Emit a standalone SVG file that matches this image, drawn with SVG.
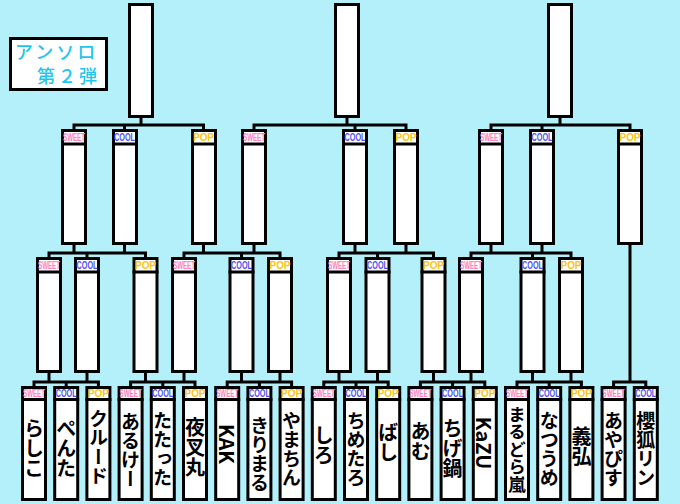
<svg xmlns="http://www.w3.org/2000/svg" width="680" height="504" viewBox="0 0 680 504">
<style>
.bg{fill:#b4f0fa}
.box{fill:#fff;stroke:#000;stroke-width:3}
.sep{stroke:#000;stroke-width:3}
.con{fill:none;stroke:#000;stroke-width:3}
.tag{font-family:"Liberation Sans","Noto Sans",sans-serif;font-size:11px;font-weight:700;text-anchor:middle}
.sw{fill:#ff80bb}
.co{fill:#5050f0}
.po{fill:#f7c514}
.title{font-family:"Noto Sans CJK JP","Noto Sans",sans-serif;font-size:18px;font-weight:500;fill:#1fc6ee;letter-spacing:3px}
.nm{font-family:"Noto Sans CJK JP","Noto Sans",sans-serif;font-size:20px;font-weight:700;fill:#000;writing-mode:vertical-rl;text-anchor:middle}
.n4{font-size:19px}
</style>
<rect class="bg" x="0" y="0" width="680" height="504"/>
<g id="title">
<rect class="box" x="10.5" y="38.5" width="96" height="51"/>
<text class="title" x="15" y="59">アンソロ</text>
<text class="title" x="37" y="83">第２弾</text>
</g>
<g id="connectors">
<path class="con" d="M141 117V125M74 125V130M124.5 125V130M203.5 125V130M72.5 125H205M347 117V125M254 125V130M355 125V130M406 125V130M252.5 125H407.5M560 117V125M491 125V130M542 125V130M630 125V130M489.5 125H631.5"/>
<path class="con" d="M74 244V253M124.5 244V253M49 253V258M87 253V258M145.5 253V258M47.5 253H147M203.5 244V253M254 244V253M184 253V258M241.5 253V258M280 253V258M182.5 253H281.5M355 244V253M406 244V253M339 253V258M377.5 253V258M433.5 253V258M337.5 253H435M491 244V253M542 244V253M471 253V258M532.5 253V258M571 253V258M469.5 253H572.5M630 244V382"/>
<path class="con" d="M49 372V382M87 372V382M32.5 382H99.9M34 382V387M66.2 382V387M98.4 382V387M145.5 372V382M184 372V382M129.1 382H196.5M130.6 382V387M162.8 382V387M195 382V387M241.5 372V382M280 372V382M225.7 382H293.1M227.2 382V387M259.4 382V387M291.6 382V387M339 372V382M377.5 372V382M322.3 382H389.7M323.8 382V387M356 382V387M388.2 382V387M433.5 372V382M471 372V382M418.9 382H486.3M420.4 382V387M452.6 382V387M484.8 382V387M532.5 372V382M571 372V382M515.5 382H582.9M517 382V387M549.2 382V387M581.4 382V387M612.1 382H647.3M613.6 382V387M645.8 382V387"/>
</g>
<g id="top1"><rect class="box" x="129.5" y="4.5" width="23" height="112"/></g>
<g id="top2"><rect class="box" x="335.5" y="4.5" width="23" height="112"/></g>
<g id="top3"><rect class="box" x="548.5" y="4.5" width="23" height="112"/></g>
<g id="l2-1"><rect class="box" x="62.5" y="130.5" width="23" height="113"/><line class="sep" x1="61" y1="144" x2="87" y2="144"/><text class="tag sw" x="74" y="141" textLength="22" lengthAdjust="spacingAndGlyphs">SWEET</text></g>
<g id="l2-2"><rect class="box" x="113.5" y="130.5" width="23" height="113"/><line class="sep" x1="112" y1="144" x2="138" y2="144"/><text class="tag co" x="124.5" y="141" textLength="21" lengthAdjust="spacingAndGlyphs">COOL</text></g>
<g id="l2-3"><rect class="box" x="192.5" y="130.5" width="23" height="113"/><line class="sep" x1="191" y1="144" x2="217" y2="144"/><text class="tag po" x="203.5" y="141" textLength="21" lengthAdjust="spacingAndGlyphs">POP</text></g>
<g id="l2-4"><rect class="box" x="242.5" y="130.5" width="23" height="113"/><line class="sep" x1="241" y1="144" x2="267" y2="144"/><text class="tag sw" x="254" y="141" textLength="22" lengthAdjust="spacingAndGlyphs">SWEET</text></g>
<g id="l2-5"><rect class="box" x="343.5" y="130.5" width="23" height="113"/><line class="sep" x1="342" y1="144" x2="368" y2="144"/><text class="tag co" x="355" y="141" textLength="21" lengthAdjust="spacingAndGlyphs">COOL</text></g>
<g id="l2-6"><rect class="box" x="394.5" y="130.5" width="23" height="113"/><line class="sep" x1="393" y1="144" x2="419" y2="144"/><text class="tag po" x="406" y="141" textLength="21" lengthAdjust="spacingAndGlyphs">POP</text></g>
<g id="l2-7"><rect class="box" x="479.5" y="130.5" width="23" height="113"/><line class="sep" x1="478" y1="144" x2="504" y2="144"/><text class="tag sw" x="491" y="141" textLength="22" lengthAdjust="spacingAndGlyphs">SWEET</text></g>
<g id="l2-8"><rect class="box" x="530.5" y="130.5" width="23" height="113"/><line class="sep" x1="529" y1="144" x2="555" y2="144"/><text class="tag co" x="542" y="141" textLength="21" lengthAdjust="spacingAndGlyphs">COOL</text></g>
<g id="l2-9"><rect class="box" x="618.5" y="130.5" width="23" height="113"/><line class="sep" x1="617" y1="144" x2="643" y2="144"/><text class="tag po" x="630" y="141" textLength="21" lengthAdjust="spacingAndGlyphs">POP</text></g>
<g id="l3-1"><rect class="box" x="37.5" y="258.5" width="23" height="113"/><line class="sep" x1="36" y1="272" x2="62" y2="272"/><text class="tag sw" x="49" y="269" textLength="22" lengthAdjust="spacingAndGlyphs">SWEET</text></g>
<g id="l3-2"><rect class="box" x="75.5" y="258.5" width="23" height="113"/><line class="sep" x1="74" y1="272" x2="100" y2="272"/><text class="tag co" x="87" y="269" textLength="21" lengthAdjust="spacingAndGlyphs">COOL</text></g>
<g id="l3-3"><rect class="box" x="134" y="258.5" width="23" height="113"/><line class="sep" x1="132.5" y1="272" x2="158.5" y2="272"/><text class="tag po" x="145.5" y="269" textLength="21" lengthAdjust="spacingAndGlyphs">POP</text></g>
<g id="l3-4"><rect class="box" x="172.5" y="258.5" width="23" height="113"/><line class="sep" x1="171" y1="272" x2="197" y2="272"/><text class="tag sw" x="184" y="269" textLength="22" lengthAdjust="spacingAndGlyphs">SWEET</text></g>
<g id="l3-5"><rect class="box" x="230" y="258.5" width="23" height="113"/><line class="sep" x1="228.5" y1="272" x2="254.5" y2="272"/><text class="tag co" x="241.5" y="269" textLength="21" lengthAdjust="spacingAndGlyphs">COOL</text></g>
<g id="l3-6"><rect class="box" x="268.5" y="258.5" width="23" height="113"/><line class="sep" x1="267" y1="272" x2="293" y2="272"/><text class="tag po" x="280" y="269" textLength="21" lengthAdjust="spacingAndGlyphs">POP</text></g>
<g id="l3-7"><rect class="box" x="327.5" y="258.5" width="23" height="113"/><line class="sep" x1="326" y1="272" x2="352" y2="272"/><text class="tag sw" x="339" y="269" textLength="22" lengthAdjust="spacingAndGlyphs">SWEET</text></g>
<g id="l3-8"><rect class="box" x="366" y="258.5" width="23" height="113"/><line class="sep" x1="364.5" y1="272" x2="390.5" y2="272"/><text class="tag co" x="377.5" y="269" textLength="21" lengthAdjust="spacingAndGlyphs">COOL</text></g>
<g id="l3-9"><rect class="box" x="422" y="258.5" width="23" height="113"/><line class="sep" x1="420.5" y1="272" x2="446.5" y2="272"/><text class="tag po" x="433.5" y="269" textLength="21" lengthAdjust="spacingAndGlyphs">POP</text></g>
<g id="l3-10"><rect class="box" x="459.5" y="258.5" width="23" height="113"/><line class="sep" x1="458" y1="272" x2="484" y2="272"/><text class="tag sw" x="471" y="269" textLength="22" lengthAdjust="spacingAndGlyphs">SWEET</text></g>
<g id="l3-11"><rect class="box" x="521" y="258.5" width="23" height="113"/><line class="sep" x1="519.5" y1="272" x2="545.5" y2="272"/><text class="tag co" x="532.5" y="269" textLength="21" lengthAdjust="spacingAndGlyphs">COOL</text></g>
<g id="l3-12"><rect class="box" x="559.5" y="258.5" width="23" height="113"/><line class="sep" x1="558" y1="272" x2="584" y2="272"/><text class="tag po" x="571" y="269" textLength="21" lengthAdjust="spacingAndGlyphs">POP</text></g>
<g id="n1"><rect class="box" x="22.5" y="387.5" width="23" height="112"/><line class="sep" x1="21" y1="399.5" x2="47" y2="399.5"/><text class="tag sw" x="34" y="396.5" textLength="22" lengthAdjust="spacingAndGlyphs">SWEET</text><text class="nm" x="34" y="448">らしこ</text></g>
<g id="n2"><rect class="box" x="54.7" y="387.5" width="23" height="112"/><line class="sep" x1="53.2" y1="399.5" x2="79.2" y2="399.5"/><text class="tag co" x="66.2" y="396.5" textLength="21" lengthAdjust="spacingAndGlyphs">COOL</text><text class="nm" x="66.2" y="448">ぺんた</text></g>
<g id="n3"><rect class="box" x="86.9" y="387.5" width="23" height="112"/><line class="sep" x1="85.4" y1="399.5" x2="111.4" y2="399.5"/><text class="tag po" x="98.4" y="396.5" textLength="21" lengthAdjust="spacingAndGlyphs">POP</text><text class="nm n4" x="98.4" y="447">クルード</text></g>
<g id="n4"><rect class="box" x="119.1" y="387.5" width="23" height="112"/><line class="sep" x1="117.6" y1="399.5" x2="143.6" y2="399.5"/><text class="tag sw" x="130.6" y="396.5" textLength="22" lengthAdjust="spacingAndGlyphs">SWEET</text><text class="nm n4" x="130.6" y="450">あるけー</text></g>
<g id="n5"><rect class="box" x="151.3" y="387.5" width="23" height="112"/><line class="sep" x1="149.8" y1="399.5" x2="175.8" y2="399.5"/><text class="tag co" x="162.8" y="396.5" textLength="21" lengthAdjust="spacingAndGlyphs">COOL</text><text class="nm n4" x="162.8" y="449">たたった</text></g>
<g id="n6"><rect class="box" x="183.5" y="387.5" width="23" height="112"/><line class="sep" x1="182" y1="399.5" x2="208" y2="399.5"/><text class="tag po" x="195" y="396.5" textLength="21" lengthAdjust="spacingAndGlyphs">POP</text><text class="nm" x="195" y="447">夜叉丸</text></g>
<g id="n7"><rect class="box" x="215.7" y="387.5" width="23" height="112"/><line class="sep" x1="214.2" y1="399.5" x2="240.2" y2="399.5"/><text class="tag sw" x="227.2" y="396.5" textLength="22" lengthAdjust="spacingAndGlyphs">SWEET</text><text class="nm" x="227.2" y="444">KAK</text></g>
<g id="n8"><rect class="box" x="247.9" y="387.5" width="23" height="112"/><line class="sep" x1="246.4" y1="399.5" x2="272.4" y2="399.5"/><text class="tag co" x="259.4" y="396.5" textLength="21" lengthAdjust="spacingAndGlyphs">COOL</text><text class="nm n4" x="259.4" y="454">きりまる</text></g>
<g id="n9"><rect class="box" x="280.1" y="387.5" width="23" height="112"/><line class="sep" x1="278.6" y1="399.5" x2="304.6" y2="399.5"/><text class="tag po" x="291.6" y="396.5" textLength="21" lengthAdjust="spacingAndGlyphs">POP</text><text class="nm n4" x="291.6" y="449">やまちん</text></g>
<g id="n10"><rect class="box" x="312.3" y="387.5" width="23" height="112"/><line class="sep" x1="310.8" y1="399.5" x2="336.8" y2="399.5"/><text class="tag sw" x="323.8" y="396.5" textLength="22" lengthAdjust="spacingAndGlyphs">SWEET</text><text class="nm" x="323.8" y="445">しろ</text></g>
<g id="n11"><rect class="box" x="344.5" y="387.5" width="23" height="112"/><line class="sep" x1="343" y1="399.5" x2="369" y2="399.5"/><text class="tag co" x="356" y="396.5" textLength="21" lengthAdjust="spacingAndGlyphs">COOL</text><text class="nm n4" x="356" y="449">ちめたろ</text></g>
<g id="n12"><rect class="box" x="376.7" y="387.5" width="23" height="112"/><line class="sep" x1="375.2" y1="399.5" x2="401.2" y2="399.5"/><text class="tag po" x="388.2" y="396.5" textLength="21" lengthAdjust="spacingAndGlyphs">POP</text><text class="nm" x="388.2" y="442">ばし</text></g>
<g id="n13"><rect class="box" x="408.9" y="387.5" width="23" height="112"/><line class="sep" x1="407.4" y1="399.5" x2="433.4" y2="399.5"/><text class="tag sw" x="420.4" y="396.5" textLength="22" lengthAdjust="spacingAndGlyphs">SWEET</text><text class="nm" x="420.4" y="441">あむ</text></g>
<g id="n14"><rect class="box" x="441.1" y="387.5" width="23" height="112"/><line class="sep" x1="439.6" y1="399.5" x2="465.6" y2="399.5"/><text class="tag co" x="452.6" y="396.5" textLength="21" lengthAdjust="spacingAndGlyphs">COOL</text><text class="nm" x="452.6" y="448">ちげ鍋</text></g>
<g id="n15"><rect class="box" x="473.3" y="387.5" width="23" height="112"/><line class="sep" x1="471.8" y1="399.5" x2="497.8" y2="399.5"/><text class="tag po" x="484.8" y="396.5" textLength="21" lengthAdjust="spacingAndGlyphs">POP</text><text class="nm" x="484.8" y="443">KaZU</text></g>
<g id="n16"><rect class="box" x="505.5" y="387.5" width="23" height="112"/><line class="sep" x1="504" y1="399.5" x2="530" y2="399.5"/><text class="tag sw" x="517" y="396.5" textLength="22" lengthAdjust="spacingAndGlyphs">SWEET</text><text class="nm" x="517" y="449" style="font-size:17.5px">まるどら嵐</text></g>
<g id="n17"><rect class="box" x="537.7" y="387.5" width="23" height="112"/><line class="sep" x1="536.2" y1="399.5" x2="562.2" y2="399.5"/><text class="tag co" x="549.2" y="396.5" textLength="21" lengthAdjust="spacingAndGlyphs">COOL</text><text class="nm n4" x="549.2" y="449">なつうめ</text></g>
<g id="n18"><rect class="box" x="569.9" y="387.5" width="23" height="112"/><line class="sep" x1="568.4" y1="399.5" x2="594.4" y2="399.5"/><text class="tag po" x="581.4" y="396.5" textLength="21" lengthAdjust="spacingAndGlyphs">POP</text><text class="nm" x="581.4" y="446">義弘</text></g>
<g id="n19"><rect class="box" x="602.1" y="387.5" width="23" height="112"/><line class="sep" x1="600.6" y1="399.5" x2="626.6" y2="399.5"/><text class="tag sw" x="613.6" y="396.5" textLength="22" lengthAdjust="spacingAndGlyphs">SWEET</text><text class="nm n4" x="613.6" y="449">あやぴす</text></g>
<g id="n20"><rect class="box" x="634.3" y="387.5" width="23" height="112"/><line class="sep" x1="632.8" y1="399.5" x2="658.8" y2="399.5"/><text class="tag co" x="645.8" y="396.5" textLength="21" lengthAdjust="spacingAndGlyphs">COOL</text><text class="nm n4" x="645.8" y="449">櫻狐リン</text></g>
</svg>
